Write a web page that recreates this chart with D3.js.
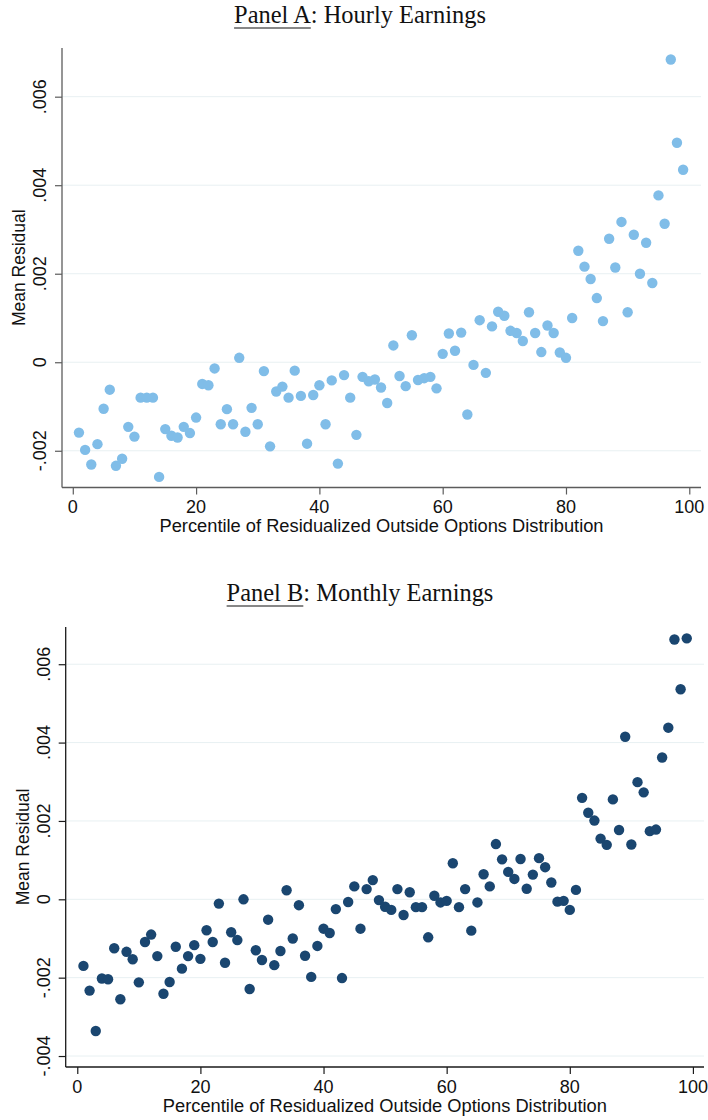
<!DOCTYPE html>
<html>
<head>
<meta charset="utf-8">
<script src="https://cdn.jsdelivr.net/npm/d3@7"></script>
<style>
  html, body { margin: 0; padding: 0; background: #fff; }
  svg { display: block; }
</style>
</head>
<body>
<svg id="chart" width="708" height="1120"></svg>
<script>
// Percentiles 1..99 of the residualized outside-options distribution
const percentiles = d3.range(1, 100);

// Mean residual of log hourly earnings by percentile
const hourlyResidual = [
  -0.00159, -0.00198, -0.00231, -0.00185, -0.00105, -0.00062, -0.00234, -0.00218, -0.00146, -0.00168,
  -0.00080, -0.00080, -0.00080, -0.00259, -0.00151, -0.00166, -0.00170, -0.00146, -0.00160, -0.00125,
  -0.00049, -0.00052, -0.00014, -0.00140, -0.00106, -0.00140, 0.00010, -0.00157, -0.00103, -0.00140,
  -0.00020, -0.00190, -0.00066, -0.00055, -0.00080, -0.00019, -0.00076, -0.00184, -0.00074, -0.00052,
  -0.00140, -0.00041, -0.00229, -0.00029, -0.00080, -0.00164, -0.00033, -0.00043, -0.00039, -0.00057,
  -0.00092, 0.00038, -0.00031, -0.00054, 0.00061, -0.00040, -0.00036, -0.00033, -0.00059, 0.00019,
  0.00065, 0.00026, 0.00067, -0.00118, -0.00006, 0.00095, -0.00024, 0.00081, 0.00114, 0.00105,
  0.00071, 0.00066, 0.00048, 0.00113, 0.00066, 0.00023, 0.00083, 0.00066, 0.00022, 0.00010,
  0.00100, 0.00252, 0.00216, 0.00188, 0.00145, 0.00093, 0.00279, 0.00214, 0.00317, 0.00113,
  0.00288, 0.00200, 0.00270, 0.00179, 0.00377, 0.00313, 0.00684, 0.00496, 0.00435
];

// Mean residual of log monthly earnings by percentile
const monthlyResidual = [
  -0.00170, -0.00233, -0.00336, -0.00202, -0.00204, -0.00125, -0.00255, -0.00134, -0.00153, -0.00212,
  -0.00109, -0.00090, -0.00145, -0.00241, -0.00211, -0.00121, -0.00177, -0.00145, -0.00117, -0.00152,
  -0.00079, -0.00109, -0.00011, -0.00162, -0.00084, -0.00104, 0.00000, -0.00229, -0.00130, -0.00155,
  -0.00052, -0.00168, -0.00132, 0.00023, -0.00100, -0.00015, -0.00144, -0.00198, -0.00119, -0.00075,
  -0.00086, -0.00025, -0.00201, -0.00007, 0.00033, -0.00075, 0.00026, 0.00049, -0.00002, -0.00019,
  -0.00027, 0.00026, -0.00040, 0.00018, -0.00020, -0.00020, -0.00097, 0.00009, -0.00008, -0.00004,
  0.00092, -0.00020, 0.00026, -0.00080, -0.00008, 0.00064, 0.00033, 0.00141, 0.00102, 0.00070,
  0.00052, 0.00103, 0.00027, 0.00063, 0.00105, 0.00082, 0.00043, -0.00006, -0.00004, -0.00027,
  0.00024, 0.00259, 0.00221, 0.00201, 0.00155, 0.00139, 0.00255, 0.00177, 0.00415, 0.00140,
  0.00299, 0.00273, 0.00174, 0.00178, 0.00362, 0.00438, 0.00663, 0.00536, 0.00666
];

const xTicks = [0, 20, 40, 60, 80, 100];
const yTicksHourly = [-0.002, 0, 0.002, 0.004, 0.006];
const yTicksMonthly = [-0.004, -0.002, 0, 0.002, 0.004, 0.006];

const panelLabels = ["Panel A", "Panel B"];
const panelSubtitles = [": Hourly Earnings", ": Monthly Earnings"];
const xTitle = "Percentile of Residualized Outside Options Distribution";
const yTitle = "Mean Residual";

const svg = d3.select("#chart");
const sans = "'Liberation Sans', Arial, Helvetica, sans-serif";
const serif = "'Liberation Serif', 'DejaVu Serif', serif";

// Stata-style residual formatting with a plain hyphen: .006, 0, -.002
const fmtResidual = v => {
  if (Math.abs(v) < 1e-12) return "0";
  return d3.format(".3f")(v).replace("\u2212", "-").replace("0.", ".");
};

const panels = [
  {
    label: panelLabels[0], subtitle: panelSubtitles[0],
    values: hourlyResidual, yTicks: yTicksHourly,
    frame: { left: 62, right: 701, top: 48, bottom: 487.5 },
    xDomain: [-1.75, 101.9], yDomain: [-0.00283, 0.0071],
    titleY: 23, titleWidth: 252,
    dot: "#80bde8", axis: "#5c5c5c",
    yTickLabelX: 46, yTitleX: 25, xTickBaseline: 513, xTitleBaseline: 532
  },
  {
    label: panelLabels[1], subtitle: panelSubtitles[1],
    values: monthlyResidual, yTicks: yTicksMonthly,
    frame: { left: 65.7, right: 704, top: 627, bottom: 1067 },
    xDomain: [-1.88, 101.8], yDomain: [-0.00428, 0.00695],
    titleY: 601, titleWidth: 267,
    dot: "#1a4670", axis: "#1a1a1a",
    yTickLabelX: 50, yTitleX: 29, xTickBaseline: 1093, xTitleBaseline: 1112
  }
];

const titleCenter = 360;

panels.forEach(p => {
  const f = p.frame;
  const x = d3.scaleLinear().domain(p.xDomain).range([f.left, f.right]);
  const y = d3.scaleLinear().domain(p.yDomain).range([f.bottom, f.top]);
  const g = svg.append("g");

  // Horizontal gridlines at the y ticks
  g.append("g").selectAll("line").data(p.yTicks).join("line")
    .attr("x1", f.left).attr("x2", f.right)
    .attr("y1", d => y(d)).attr("y2", d => y(d))
    .attr("stroke", "#e8f0f2").attr("stroke-width", 1);

  // Y axis
  const yAxis = g.append("g")
    .attr("transform", `translate(${f.left},0)`)
    .call(d3.axisLeft(y).tickValues(p.yTicks).tickSize(7).tickFormat(""));
  yAxis.select(".domain").attr("d", `M0,${f.top}V${f.bottom}`)
    .attr("stroke", p.axis).attr("stroke-width", 1.3);
  yAxis.selectAll(".tick line").attr("stroke", p.axis).attr("stroke-width", 1.2);

  g.append("g").selectAll("text").data(p.yTicks).join("text")
    .attr("transform", d => `translate(${p.yTickLabelX},${y(d)}) rotate(-90)`)
    .attr("text-anchor", "middle")
    .attr("font-family", sans).attr("font-size", 18).attr("fill", "#111")
    .text(fmtResidual);

  // X axis
  const xAxis = g.append("g")
    .attr("transform", `translate(0,${f.bottom})`)
    .call(d3.axisBottom(x).tickValues(xTicks).tickSize(7).tickFormat(""));
  xAxis.select(".domain").attr("d", `M${f.left},0H${f.right}`)
    .attr("stroke", p.axis).attr("stroke-width", 1.3);
  xAxis.selectAll(".tick line").attr("stroke", p.axis).attr("stroke-width", 1.2);

  g.append("g").selectAll("text").data(xTicks).join("text")
    .attr("x", d => x(d)).attr("y", p.xTickBaseline)
    .attr("text-anchor", "middle")
    .attr("font-family", sans).attr("font-size", 18).attr("fill", "#111")
    .text(d => d);

  // Axis titles
  g.append("text")
    .attr("x", (f.left + f.right) / 2).attr("y", p.xTitleBaseline)
    .attr("text-anchor", "middle")
    .attr("font-family", sans).attr("font-size", 18.3).attr("fill", "#111")
    .text(xTitle);

  g.append("text")
    .attr("transform", `translate(${p.yTitleX},${(f.top + f.bottom) / 2}) rotate(-90)`)
    .attr("text-anchor", "middle")
    .attr("font-family", sans).attr("font-size", 17.5).attr("fill", "#111")
    .text(yTitle);

  // Scatter points
  g.append("g").selectAll("circle").data(percentiles).join("circle")
    .attr("cx", d => x(d))
    .attr("cy", (d, i) => y(p.values[i]))
    .attr("r", 5.2)
    .attr("fill", p.dot);

  // Panel title with underlined panel label
  const title = svg.append("text")
    .attr("y", p.titleY)
    .attr("font-family", serif).attr("font-size", 20).attr("fill", "#111");
  title.append("tspan").text(p.label);
  title.append("tspan").text(p.subtitle);
  const w = title.node().getComputedTextLength();
  title.attr("font-size", 20 * p.titleWidth / w);
  const w2 = title.node().getComputedTextLength();
  const tx = titleCenter - w2 / 2;
  title.attr("x", tx);
  const labW = title.node().getSubStringLength(0, p.label.length);
  svg.append("line")
    .attr("x1", tx).attr("x2", tx + labW)
    .attr("y1", p.titleY + 5).attr("y2", p.titleY + 5)
    .attr("stroke", "#111").attr("stroke-width", 1.2);
});
</script>
</body>
</html>
